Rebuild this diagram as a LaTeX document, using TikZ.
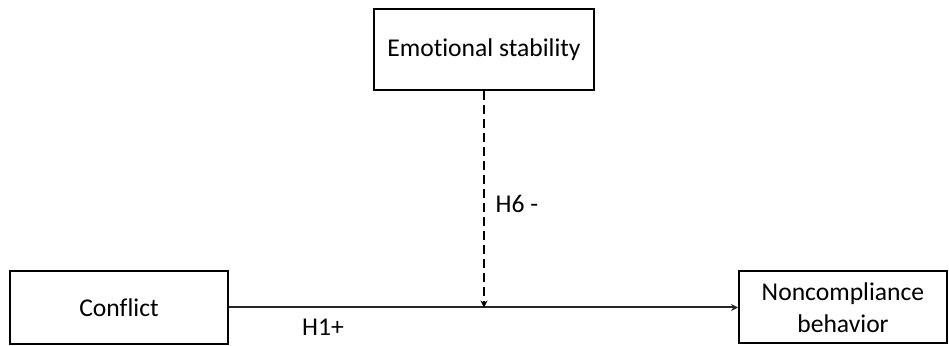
\documentclass[tikz,border=0pt]{standalone}
\usepackage{fontspec}
\setmainfont[Ligatures=NoCommon]{Carlito}
\usetikzlibrary{arrows.meta,positioning}
\definecolor{linegray}{HTML}{262626}
\tikzset{
  var/.style={draw=black,line width=1pt,fill=white,inner sep=0pt,align=center,font=\fontsize{12.8}{16}\selectfont},
  hyp/.style={font=\fontsize{12.8}{16}\selectfont,inner sep=0pt},
  arr/.style={-{Stealth[length=3.5pt,width=3.5pt]},draw=linegray,line width=1pt},
  dasharr/.style={-{Stealth[length=3.5pt,width=3.5pt]},draw=black,line width=0.8pt,dash pattern=on 4.5pt off 2.5pt}
}
\begin{document}
\begin{tikzpicture}[x=0.5pt,y=-0.5pt]
\path[use as bounding box] (0,0) rectangle (949,346);
% variables
\node[var,minimum width=110pt,minimum height=40.5pt] (emo) at (484,49.5) {Emotional stability};
\node[var,minimum width=109pt,minimum height=36.5pt] (conf) at (119,307.5) {Conflict};
\node[var,minimum width=104pt,minimum height=36pt] (nonc) at (843,307.5) {Noncompliance\\behavior};
% paths
\coordinate (mid) at (484,307.5);
\draw[arr] (conf) -- (nonc);
\draw[dasharr] (emo) -- (mid);
\node[hyp] (h6) at (517,203.5) {H6 -};
\node[hyp] (h1) at (323,327.5) {H1+};
\end{tikzpicture}
\end{document}
